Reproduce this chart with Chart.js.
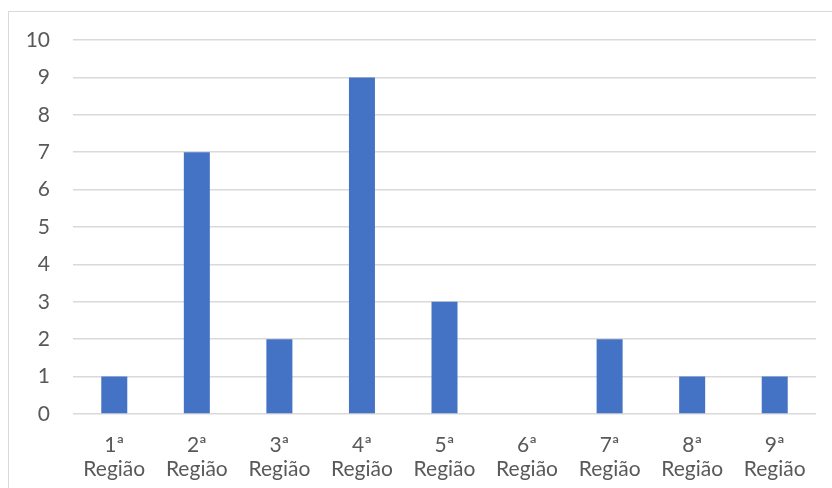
<!DOCTYPE html>
<html>
<head>
<meta charset="utf-8">
<script src="https://cdn.jsdelivr.net/npm/chart.js@4/dist/chart.umd.min.js"></script>
<style>
  html, body { margin: 0; padding: 0; background: #fff; }
  #wrap { position: relative; width: 832px; height: 488px; overflow: hidden; }
  #frame { position: absolute; left: 8px; top: 11px; width: 900px; height: 600px;
           border: 1px solid #d9d9d9; box-sizing: border-box; }
  canvas { position: absolute; left: 0; top: 0; }
</style>
</head>
<body>
<div id="wrap">
  <div id="frame"></div>
  <canvas id="c" width="832" height="488"></canvas>
</div>
<script>
// Regions and how many entries fall in each
const categories = [
  ['1ª', 'Região'], ['2ª', 'Região'], ['3ª', 'Região'],
  ['4ª', 'Região'], ['5ª', 'Região'], ['6ª', 'Região'],
  ['7ª', 'Região'], ['8ª', 'Região'], ['9ª', 'Região']
];
const values = [1, 7, 2, 9, 3, 0, 2, 1, 1];
const yMin = 0, yMax = 10, yStep = 1;

const labelFont = { family: 'Lato, "Liberation Sans", sans-serif', size: 21, lineHeight: 1.15 };
const textColor = '#595959';
const gridColor = '#d9d9d9';

new Chart(document.getElementById('c'), {
  type: 'bar',
  data: {
    labels: categories,
    datasets: [{
      data: values,
      backgroundColor: '#4472c4',
      borderWidth: 0,
      barPercentage: 0.315,
      categoryPercentage: 1
    }]
  },
  options: {
    responsive: false,
    animation: false,
    layout: { padding: { top: 40, right: 16, left: 0, bottom: 0 } },
    plugins: { legend: { display: false }, tooltip: { enabled: false } },
    scales: {
      x: {
        grid: { display: false },
        border: { display: false },
        ticks: { color: textColor, font: labelFont, padding: 11, maxRotation: 0, autoSkip: false },
        afterFit: s => { s.height = 74; }
      },
      y: {
        min: yMin, max: yMax,
        grid: { color: gridColor, lineWidth: 1.5, drawTicks: false },
        border: { display: false },
        ticks: { stepSize: yStep, color: textColor, font: labelFont, padding: 23 },
        afterFit: s => { s.width = 73; }
      }
    }
  }
});
</script>
</body>
</html>
